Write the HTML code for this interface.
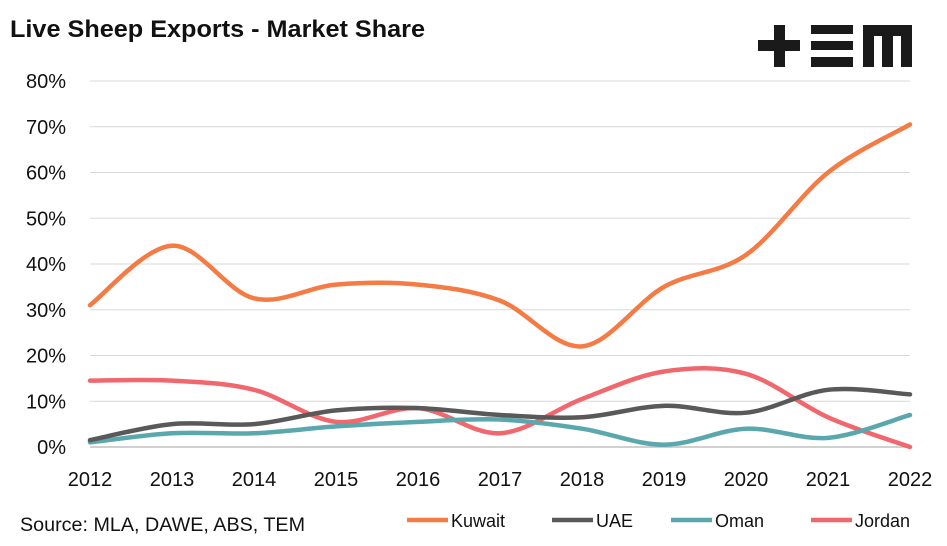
<!DOCTYPE html>
<html><head><meta charset="utf-8"><style>
body{margin:0;background:#fff;width:947px;height:541px;overflow:hidden;font-family:"Liberation Sans",sans-serif}
</style></head><body>
<svg id="s" width="947" height="541" xmlns="http://www.w3.org/2000/svg" font-family="Liberation Sans, sans-serif">
<text x="10" y="37" font-size="24" font-weight="bold" fill="#111" textLength="415" lengthAdjust="spacingAndGlyphs">Live Sheep Exports - Market Share</text>
<g fill="#1a1a1a">
<rect x="758" y="40" width="42" height="11"/><rect x="774" y="25" width="11" height="42"/>
<rect x="811" y="25" width="42" height="9"/><rect x="811" y="41" width="42" height="9"/><rect x="811" y="57" width="42" height="10"/>
<rect x="863" y="25" width="49" height="11"/><rect x="863" y="25" width="11" height="42"/><rect x="882" y="25" width="11" height="42"/><rect x="901" y="25" width="11" height="42"/>
</g>
<g id="grid" stroke="#d9d9d9" stroke-width="1"></g>
<g id="yl" font-size="20" fill="#111" text-anchor="end"></g>
<g id="xl" font-size="20" fill="#111" text-anchor="middle"></g>
<g id="lines" fill="none" stroke-width="4.5" stroke-linecap="round"></g>
<text x="20" y="531" font-size="19" fill="#111" textLength="285" lengthAdjust="spacingAndGlyphs">Source: MLA, DAWE, ABS, TEM</text>
<g font-size="18" fill="#111" stroke-width="4.5">
<line x1="407" y1="520" x2="448" y2="520" stroke="#f47b44"/><text x="451" y="527">Kuwait</text>
<line x1="552" y1="520" x2="593" y2="520" stroke="#595959"/><text x="596" y="527">UAE</text>
<line x1="671" y1="520" x2="712" y2="520" stroke="#5ba7ae"/><text x="715" y="527">Oman</text>
<line x1="811" y1="520" x2="852" y2="520" stroke="#f0686e"/><text x="855" y="527">Jordan</text>
</g>
</svg>
<script>
var NS="http://www.w3.org/2000/svg";
function Y(v){return 447-4.575*v}function X(i){return 90+82*i}
function el(p,t,a,txt){var e=document.createElementNS(NS,t);for(var k in a)e.setAttribute(k,a[k]);if(txt)e.textContent=txt;document.getElementById(p).appendChild(e)}
for(var v=0;v<=80;v+=10){if(v>0)el("grid","line",{x1:90,x2:910,y1:Y(v),y2:Y(v)});el("yl","text",{x:66,y:Y(v)+7},v+"%")}
el("grid","line",{x1:90,x2:910,y1:447,y2:447,stroke:"#d0d0d0","stroke-width":2});
for(var i=0;i<=10;i++)el("xl","text",{x:X(i),y:486},2012+i);
var S=[["#f0686e",[14.5,14.5,12.5,5.5,8.5,3,10.5,16.5,16,6.5,0]],
["#5ba7ae",[1,3,3,4.5,5.5,6,4,0.5,4,2,7]],
["#595959",[1.5,5,5,8,8.5,7,6.5,9,7.5,12.5,11.5]],
["#f47b44",[31,44,32.5,35.5,35.5,32,22,35,42,60,70.5]]];
S.forEach(function(s){var d=s[1],p=[];for(var i=0;i<d.length;i++)p.push([X(i),Y(d[i])]);
var str="M"+p[0][0]+","+p[0][1];
for(var i=0;i<p.length-1;i++){var p0=p[Math.max(0,i-1)],p1=p[i],p2=p[i+1],p3=p[Math.min(p.length-1,i+2)];var t=1/6;
str+=" C"+(p1[0]+(p2[0]-p0[0])*t)+","+(p1[1]+(p2[1]-p0[1])*t)+" "+(p2[0]-(p3[0]-p1[0])*t)+","+(p2[1]-(p3[1]-p1[1])*t)+" "+p2[0]+","+p2[1];}
el("lines","path",{d:str,stroke:s[0]});});
</script>
</body></html>
